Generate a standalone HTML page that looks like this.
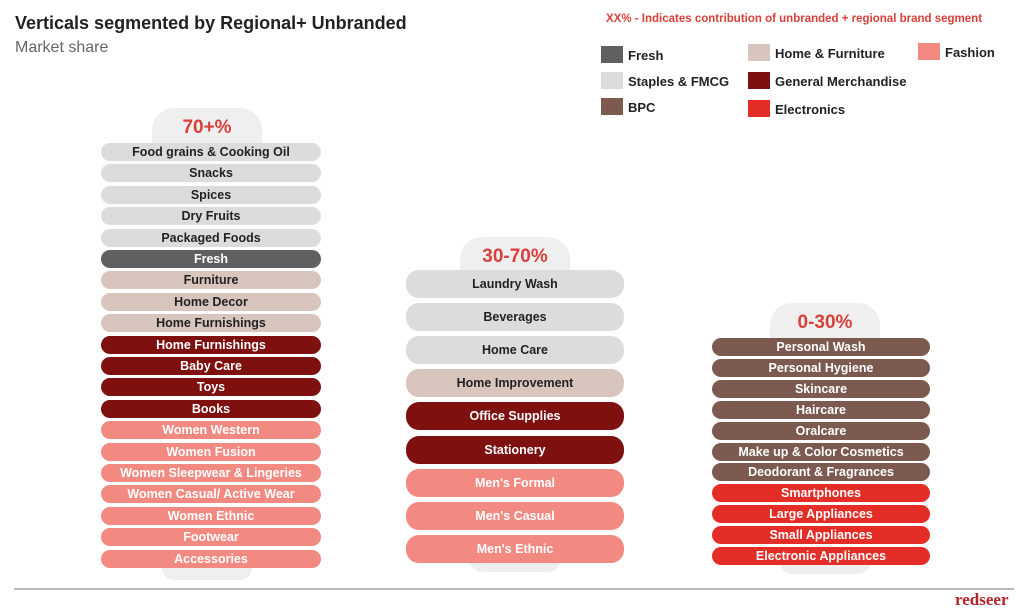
<!DOCTYPE html>
<html><head><meta charset="utf-8"><style>
body{margin:0;width:1024px;height:615px;background:#fff;position:relative;overflow:hidden;font-family:"Liberation Sans",sans-serif}
.a{position:absolute}
.pill{position:absolute;border-radius:9px;text-align:center;font-size:12.5px;font-weight:bold;display:flex;align-items:center;justify-content:center;box-sizing:border-box}
.tab{position:absolute;background:#efefef;border-radius:22px 22px 0 0}
.bump{position:absolute;background:#efefef;border-radius:0 0 14px 14px}
.pct{position:absolute;color:#d9403a;font-weight:bold;font-size:19px;text-align:center}
.lg{position:absolute;width:22px;height:17px}
.lt{position:absolute;font-size:13px;font-weight:bold;color:#222}
</style></head><body>
<div class="a" style="left:15px;top:13px;font-size:18px;font-weight:bold;color:#222">Verticals segmented by Regional+ Unbranded</div>
<div class="a" style="left:15px;top:39px;font-size:16px;color:#666">Market share</div>
<div class="a" style="left:606px;top:13px;font-size:11.5px;font-weight:bold;color:#d9403a">XX% -  Indicates contribution of unbranded + regional brand segment</div>
<div id="legend"></div>
<div id="cols"></div>
<div class="a" style="left:14px;top:588px;width:1000px;height:2px;background:#bbb"></div>
<div class="a" style="left:955px;top:590px;font-family:'Liberation Serif',serif;font-size:17px;font-weight:bold;color:#b5242a">redseer</div>
<script>
const C={staples:'#dcdcdc',fresh:'#606060',home:'#d8c5bd',gm:'#7e1010',fashion:'#f28a82',bpc:'#7d5a4f',elec:'#e52d27'};
const dark={staples:1,home:1};
const legendItems=[['Fresh','fresh',601,46],['Staples & FMCG','staples',601,72],['BPC','bpc',601,98],['Home & Furniture','home',748,44],['General Merchandise','gm',748,72],['Electronics','elec',748,100],['Fashion','fashion',918,43]];
const lg=document.getElementById('legend');
legendItems.forEach(([t,k,x,y])=>{
 const s=document.createElement('div');s.className='lg';s.style.left=x+'px';s.style.top=y+'px';s.style.background=C[k];
 
 
 lg.appendChild(s);
 const l=document.createElement('div');l.className='lt';l.style.left=(x+27)+'px';l.style.top=(y+2)+'px';l.textContent=t;
 
 
 lg.appendChild(l);
});
const col1=[['Food grains & Cooking Oil','staples'],['Snacks','staples'],['Spices','staples'],['Dry Fruits','staples'],['Packaged Foods','staples'],['Fresh','fresh'],['Furniture','home'],['Home Decor','home'],['Home Furnishings','home'],['Home Furnishings','gm'],['Baby Care','gm'],['Toys','gm'],['Books','gm'],['Women Western','fashion'],['Women Fusion','fashion'],['Women Sleepwear & Lingeries','fashion'],['Women Casual/ Active Wear','fashion'],['Women Ethnic','fashion'],['Footwear','fashion'],['Accessories','fashion']];
const col2=[['Laundry Wash','staples'],['Beverages','staples'],['Home Care','staples'],['Home Improvement','home'],['Office Supplies','gm'],['Stationery','gm'],["Men's Formal",'fashion'],["Men's Casual",'fashion'],["Men's Ethnic",'fashion']];
const col3=[['Personal Wash','bpc'],['Personal Hygiene','bpc'],['Skincare','bpc'],['Haircare','bpc'],['Oralcare','bpc'],['Make up & Color Cosmetics','bpc'],['Deodorant & Fragrances','bpc'],['Smartphones','elec'],['Large Appliances','elec'],['Small Appliances','elec'],['Electronic Appliances','elec']];
const cols=[
 {items:col1,x:101,w:220,y0:152,step:21.4,h:18,pct:'70+%',tx:152,ty:108,by:568},
 {items:col2,x:406,w:218,y0:284,step:33.1,h:28,pct:'30-70%',tx:460,ty:237,by:560},
 {items:col3,x:712,w:218,y0:347,step:20.9,h:18,pct:'0-30%',tx:770,ty:303,by:562}];
const root=document.getElementById('cols');
cols.forEach((c,ci)=>{
 const t=document.createElement('div');t.className='tab';t.style.left=c.tx+'px';t.style.top=c.ty+'px';t.style.width='110px';t.style.height=(c.y0-c.ty)+'px';
 
 
 root.appendChild(t);
 const b=document.createElement('div');b.className='bump';b.style.left=(c.tx+10)+'px';b.style.top=c.by+'px';b.style.width='90px';b.style.height='12px';
 
 
 root.appendChild(b);
 const p=document.createElement('div');p.className='pct';p.style.left=c.tx+'px';p.style.width='110px';p.style.top=(c.ty+9)+'px';p.textContent=c.pct;
 
 
 root.appendChild(p);
 c.items.forEach(([name,k],i)=>{
  const e=document.createElement('div');e.className='pill';
  const cy=c.y0+i*c.step;
  e.style.left=c.x+'px';e.style.width=c.w+'px';e.style.top=(cy-c.h/2)+'px';e.style.height=c.h+'px';
  e.style.background=C[k];e.style.color=dark[k]?'#222':'#fff';
  if(c.h>20)e.style.borderRadius='13px';
  e.textContent=name;
  
  
  root.appendChild(e);
 });
});
</script>
</body></html>
